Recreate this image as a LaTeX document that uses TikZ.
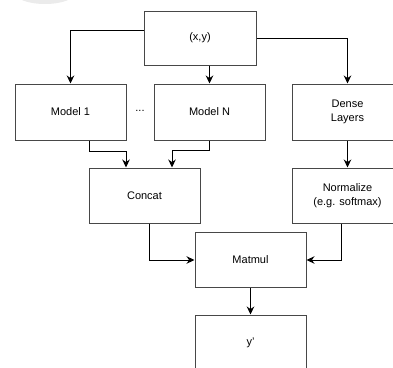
\documentclass[tikz,border=0pt]{standalone}
\usepackage{fontspec}
\setmainfont{Liberation Sans}
\usetikzlibrary{arrows.meta,calc}

\begin{document}
\begin{tikzpicture}[x=1pt,y=-1pt,
  blk/.style={draw=black!72,line width=1pt,minimum width=111pt,minimum height=55pt,
    align=center,font=\fontsize{11}{14}\selectfont,inner sep=0pt},
  link/.style={draw=black,line width=1pt,-{Stealth[length=8pt,width=7.5pt]}}]

\clip (0,0) rectangle (393,367);
\useasboundingbox (0,0) rectangle (393,367);

% faint blob at the top left
\fill[black!8] (45,-7) ellipse (30 and 11);

\node[blk,minimum width=112pt,minimum height=54pt] (xy) at (200,38) {(x,y)};
\node[blk,minimum height=56pt] (m1) at (70.5,112) {Model 1};
\node[blk,minimum height=56pt] (mN) at (209.5,112) {Model N};
\node[blk,minimum height=56pt] (dense) at (347.5,112) {Dense\\Layers};
\node[font=\fontsize{11}{14}\selectfont] (dots) at (140,111) {...};

\node[blk] (concat) at (144.5,195.5) {Concat};
\node[blk] (norm) at (347.5,195.5) {Normalize\\(e.g. softmax)};
\node[blk] (matmul) at (250.5,260) {Matmul};
\node[blk,minimum height=56pt] (yout) at (250.5,343) {y'};

\path[link] ([yshift=8pt]xy.west) -| (m1.north);
\path[link] (xy.south -| mN.north) -- (mN.north);
\path[link] (xy.east) -| (dense.north);

\path[link] ([xshift=18.5pt]m1.south) -- ++(0,11) -| ([xshift=-18.5pt]concat.north);
\path[link] (mN.south) -- ++(0,10) -| ([xshift=27.5pt]concat.north);
\path[link] (dense.south) -- (norm.north);

\path[link] ([xshift=4.5pt]concat.south) |- (matmul.west);
\path[link] ([xshift=-6.5pt]norm.south) |- (matmul.east);
\path[link] (matmul.south) -- (yout.north);

\end{tikzpicture}
\end{document}
